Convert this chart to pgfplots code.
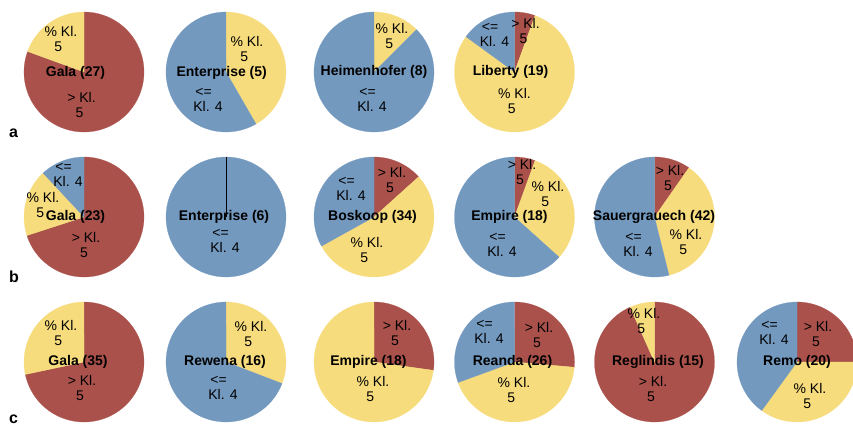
\documentclass[border=0pt]{standalone}
\usepackage{pgfplots}
\pgfplotsset{compat=1.18}
\usepackage{fontspec}
\setmainfont{Liberation Sans}
\definecolor{cred}{RGB}{169,81,74}
\definecolor{cyel}{RGB}{247,220,125}
\definecolor{cblu}{RGB}{115,153,191}
\pgfplotsset{piestyle/.style={hide axis, scale only axis, width=120bp, height=120bp,
  xmin=-1, xmax=1, ymin=-1, ymax=1, anchor=center, clip=false}}
% slice: start angle, end angle (degrees clockwise from 12 o'clock), colour
\newcommand{\slice}[3]{\addplot[fill=#3, draw=#3, line width=0.2pt, domain=#1:#2, samples=91]
  ({sin(x)},{cos(x)}) -- (axis cs:0,0) -- cycle;}
\tikzset{lbl/.style={font=\fontsize{14bp}{15bp}\selectfont, align=left, inner sep=0pt},
  nmst/.style={font=\bfseries\fontsize{14bp}{15bp}\selectfont, inner sep=0pt}}
\newcommand{\lab}[3]{\node[lbl, xshift={(#1)*1bp}, yshift={-(#2)*1bp}] at (axis cs:0,0) {#3};}
\newcommand{\nm}[3]{\node[nmst, xshift={(#1)*1bp}, yshift={-(#2)*1bp}] at (axis cs:0,0) {#3};}
\newcommand{\Ty}{\% Kl.\\\hspace*{0.7em}5}
\newcommand{\Tr}{> Kl.\\\hspace*{0.6em}5}
\newcommand{\Tb}{\hspace*{0.15em}<=\\Kl. 4}
\begin{document}
\begin{tikzpicture}
\useasboundingbox (0,0) rectangle (853bp,-425bp);
% ---------- row a ----------
\begin{axis}[piestyle, at={(84bp,-72bp)}]
\slice{0}{290}{cred}\slice{290}{360}{cyel}
\lab{-23}{-33}{\Ty}\lab{-2.5}{33}{\Tr}
\nm{-8.5}{1}{Gala (27)}
\end{axis}
\begin{axis}[piestyle, at={(226bp,-72bp)}]
\slice{0}{150}{cyel}\slice{150}{360}{cblu}
\lab{21}{-23}{\Ty}\lab{-18}{28}{\Tb}
\nm{-4.3}{1}{Enterprise (5)}
\end{axis}
\begin{axis}[piestyle, at={(374bp,-72bp)}]
\slice{0}{45}{cyel}\slice{45}{360}{cblu}
\lab{18}{-36}{\Ty}\lab{-2}{28}{\Tb}
\nm{0}{0}{Heimenhofer (8)}
\end{axis}
\begin{axis}[piestyle, at={(514.5bp,-72bp)}]
\slice{0}{20}{cred}\slice{20}{306}{cyel}\slice{306}{360}{cblu}
\lab{-20}{-37}{\Tb}\lab{11}{-41}{\Tr}\lab{0}{29}{\Ty}
\nm{-4}{0}{Liberty (19)}
\end{axis}
% ---------- row b ----------
\begin{axis}[piestyle, at={(84bp,-217bp)}]
\slice{0}{252}{cred}\slice{252}{317}{cyel}\slice{317}{360}{cblu}
\lab{-16}{-42}{\Tb}\lab{-41}{-12}{\Ty}\lab{2}{28}{\Tr}
\nm{-8.5}{-0.5}{Gala (23)}
\end{axis}
\begin{axis}[piestyle, at={(226bp,-217bp)}]
\slice{0}{360}{cblu}
\addplot[black, line width=0.8bp] coordinates {(0,0) (0,1)};
\lab{-1}{24}{\Tb}
\nm{-2}{0}{Enterprise (6)}
\end{axis}
\begin{axis}[piestyle, at={(374bp,-217bp)}]
\slice{0}{48}{cred}\slice{48}{241}{cyel}\slice{241}{360}{cblu}
\lab{18}{-37}{\Tr}\lab{-23}{-28}{\Tb}\lab{-7}{33}{\Ty}
\nm{-1.5}{0}{Boskoop (34)}
\end{axis}
\begin{axis}[piestyle, at={(514.5bp,-217bp)}]
\slice{0}{20}{cred}\slice{20}{132}{cyel}\slice{132}{360}{cblu}
\lab{7.5}{-45}{\Tr}\lab{33.5}{-23}{\Ty}\lab{-12.5}{28}{\Tb}
\nm{-5}{0}{Empire (18)}
\end{axis}
\begin{axis}[piestyle, at={(654.5bp,-217bp)}]
\slice{0}{35}{cred}\slice{35}{166}{cyel}\slice{166}{360}{cblu}
\lab{15.5}{-39}{\Tr}\lab{31.5}{25}{\Ty}\lab{-16.5}{28}{\Tb}
\nm{-0.5}{0}{Sauergrauech (42)}
\end{axis}
% ---------- row c ----------
\begin{axis}[piestyle, at={(84bp,-362bp)}]
\slice{0}{258}{cred}\slice{258}{360}{cyel}
\lab{-23}{-29}{\Ty}\lab{-2}{26}{\Tr}
\nm{-6}{-0.5}{Gala (35)}
\end{axis}
\begin{axis}[piestyle, at={(226bp,-362bp)}]
\slice{0}{111}{cyel}\slice{111}{360}{cblu}
\lab{25}{-28}{\Ty}\lab{-3}{26}{\Tb}
\nm{-1}{-0.5}{Rewena (16)}
\end{axis}
\begin{axis}[piestyle, at={(374bp,-362bp)}]
\slice{0}{98}{cred}\slice{98}{360}{cyel}
\lab{23}{-29}{\Tr}\lab{-1}{27}{\Ty}
\nm{-5.5}{-0.5}{Empire (18)}
\end{axis}
\begin{axis}[piestyle, at={(514.5bp,-362bp)}]
\slice{0}{95}{cred}\slice{95}{250}{cyel}\slice{250}{360}{cblu}
\lab{-25.5}{-30}{\Tb}\lab{24.5}{-27}{\Tr}\lab{-0.5}{28}{\Ty}
\nm{-2}{-0.5}{Reanda (26)}
\end{axis}
\begin{axis}[piestyle, at={(654.5bp,-362bp)}]
\slice{0}{336}{cred}\slice{336}{360}{cyel}
\lab{-10.5}{-41}{\Ty}\lab{-1.5}{27}{\Tr}
\nm{3.5}{0}{Reglindis (15)}
\end{axis}
\begin{axis}[piestyle, at={(797bp,-362bp)}]
\slice{0}{90}{cred}\slice{90}{216}{cyel}\slice{216}{360}{cblu}
\lab{-23}{-29}{\Tb}\lab{21}{-28}{\Tr}\lab{13}{34}{\Ty}
\nm{0}{0}{Remo (20)}
\end{axis}
% row letters
\node[anchor=base west, inner sep=0pt, font=\bfseries\fontsize{16bp}{16bp}\selectfont] at (9bp,-137bp) {a};
\node[anchor=base west, inner sep=0pt, font=\bfseries\fontsize{16bp}{16bp}\selectfont] at (9bp,-282bp) {b};
\node[anchor=base west, inner sep=0pt, font=\bfseries\fontsize{16bp}{16bp}\selectfont] at (9bp,-423bp) {c};
\end{tikzpicture}
\end{document}
